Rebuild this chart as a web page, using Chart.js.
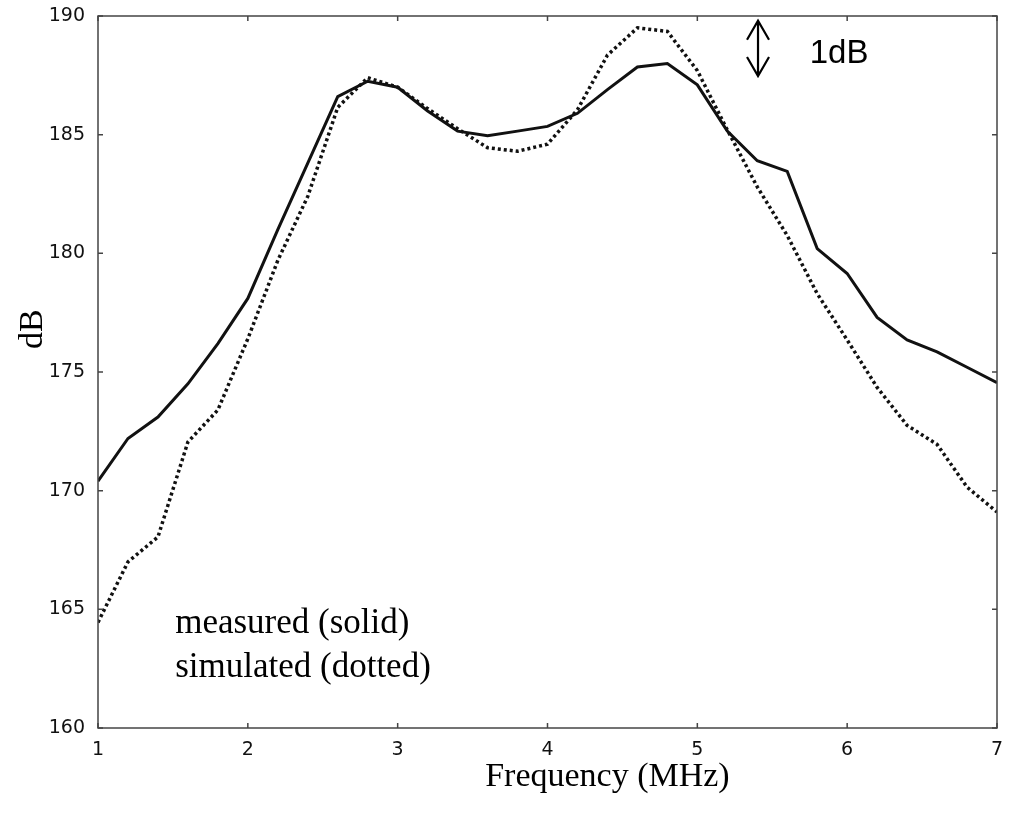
<!DOCTYPE html>
<html>
<head>
<meta charset="utf-8">
<script src="https://cdn.jsdelivr.net/npm/chart.js@4.4.0/dist/chart.umd.min.js"></script>
<style>
  body { margin: 0; background: #fff; }
  #wrap { width: 1010px; height: 820px; }
</style>
</head>
<body>
<div id="wrap"><canvas id="chart" width="1010" height="820"></canvas></div>
<script>
// frequency samples (MHz)
const freqs = [1.0, 1.2, 1.4, 1.6, 1.8, 2.0, 2.2, 2.4, 2.6, 2.8, 3.0, 3.2, 3.4, 3.6, 3.8, 4.0,
               4.2, 4.4, 4.6, 4.8, 5.0, 5.2, 5.4, 5.6, 5.8, 6.0, 6.2, 6.4, 6.6, 6.8, 7.0];
// measured (solid), dB
const measured = [170.4, 172.2, 173.1, 174.5, 176.2, 178.1, 181.0, 183.8, 186.6, 187.25, 187.0, 186.0, 185.15, 184.95, 185.15, 185.35,
                  185.9, 186.9, 187.85, 188.0, 187.1, 185.15, 183.9, 183.45, 180.2, 179.15, 177.3, 176.35, 175.85, 175.2, 174.55];
// simulated (dotted), dB
const simulated = [164.45, 167.0, 168.05, 172.05, 173.4, 176.4, 179.7, 182.4, 186.15, 187.4, 187.0, 186.1, 185.25, 184.45, 184.3, 184.6,
                   186.05, 188.35, 189.5, 189.35, 187.7, 185.2, 182.8, 180.75, 178.3, 176.35, 174.35, 172.75, 171.95, 170.15, 169.1];
const xTicks = [1, 2, 3, 4, 5, 6, 7];
const yTicks = [160, 165, 170, 175, 180, 185, 190];

const serif = '"Liberation Serif", "Times New Roman", serif';
const sans = '"DejaVu Sans", Verdana, sans-serif';

const toPoints = ys => freqs.map((f, i) => ({ x: f, y: ys[i] }));

// frame, inward ticks, titles and annotations
const decorations = {
  id: 'decorations',
  afterDraw(chart) {
    const ctx = chart.ctx;
    const a = chart.chartArea;
    const xs = chart.scales.x, ys = chart.scales.y;
    ctx.save();
    ctx.strokeStyle = '#444';
    ctx.lineWidth = 1.5;
    ctx.strokeRect(a.left, a.top, a.right - a.left, a.bottom - a.top);
    ctx.beginPath();
    xTicks.forEach(t => {
      const px = xs.getPixelForValue(t);
      ctx.moveTo(px, a.bottom); ctx.lineTo(px, a.bottom - 5);
      ctx.moveTo(px, a.top); ctx.lineTo(px, a.top + 5);
    });
    yTicks.forEach(t => {
      const py = ys.getPixelForValue(t);
      ctx.moveTo(a.left, py); ctx.lineTo(a.left + 5, py);
      ctx.moveTo(a.right, py); ctx.lineTo(a.right - 5, py);
    });
    ctx.stroke();

    ctx.fillStyle = '#000';
    // axis titles
    ctx.font = '34px ' + serif;
    ctx.textAlign = 'center';
    ctx.textBaseline = 'middle';
    ctx.fillText('Frequency (MHz)', xs.getPixelForValue(4.4), 777);
    ctx.save();
    ctx.translate(33, ys.getPixelForValue(176.8));
    ctx.rotate(-Math.PI / 2);
    ctx.fillText('dB', 0, 0);
    ctx.restore();

    // legend text
    ctx.font = '35px ' + serif;
    ctx.textAlign = 'left';
    ctx.fillText('measured (solid)', xs.getPixelForValue(1.515), ys.getPixelForValue(164.4));
    ctx.fillText('simulated (dotted)', xs.getPixelForValue(1.515), ys.getPixelForValue(162.55));

    // 1dB scale marker
    const ax = xs.getPixelForValue(5.405);
    const y1 = ys.getPixelForValue(189.8), y2 = ys.getPixelForValue(187.47);
    ctx.strokeStyle = '#000';
    ctx.lineWidth = 2.2;
    ctx.beginPath();
    ctx.moveTo(ax, y1); ctx.lineTo(ax, y2);
    ctx.moveTo(ax - 11, y1 + 19); ctx.lineTo(ax, y1); ctx.lineTo(ax + 11, y1 + 19);
    ctx.moveTo(ax - 11, y2 - 19); ctx.lineTo(ax, y2); ctx.lineTo(ax + 11, y2 - 19);
    ctx.stroke();
    ctx.font = '33px "Liberation Sans", Arial, sans-serif';
    ctx.fillText('1dB', xs.getPixelForValue(5.75), ys.getPixelForValue(188.42));
    ctx.restore();
  }
};

new Chart(document.getElementById('chart'), {
  type: 'line',
  data: {
    datasets: [
      {
        label: 'measured',
        data: toPoints(measured),
        borderColor: '#111',
        borderWidth: 3,
        pointRadius: 0,
        tension: 0,
        fill: false
      },
      {
        label: 'simulated',
        data: toPoints(simulated),
        borderColor: '#111',
        borderWidth: 3.5,
        borderDash: [3, 3],
        borderCapStyle: 'butt',
        pointRadius: 0,
        tension: 0,
        fill: false
      }
    ]
  },
  plugins: [decorations],
  options: {
    responsive: false,
    animation: false,
    layout: { padding: { top: 16, right: 13, left: 0, bottom: 0 } },
    plugins: { legend: { display: false }, tooltip: { enabled: false } },
    scales: {
      x: {
        type: 'linear',
        min: 1, max: 7,
        afterBuildTicks: s => { s.ticks = xTicks.map(v => ({ value: v })); },
        afterFit: s => { s.height = 92; s.paddingLeft = 0; s.paddingRight = 0; },
        grid: { display: false, drawTicks: false },
        border: { display: false },
        ticks: { color: '#111', font: { family: sans, size: 19 }, padding: 11, maxRotation: 0 }
      },
      y: {
        min: 160, max: 190,
        afterBuildTicks: s => { s.ticks = yTicks.map(v => ({ value: v })); },
        afterFit: s => { s.width = 98; s.paddingTop = 0; s.paddingBottom = 0; },
        grid: { display: false, drawTicks: false },
        border: { display: false },
        ticks: { color: '#111', font: { family: sans, size: 19 }, padding: 13 }
      }
    }
  }
});
</script>
</body>
</html>
